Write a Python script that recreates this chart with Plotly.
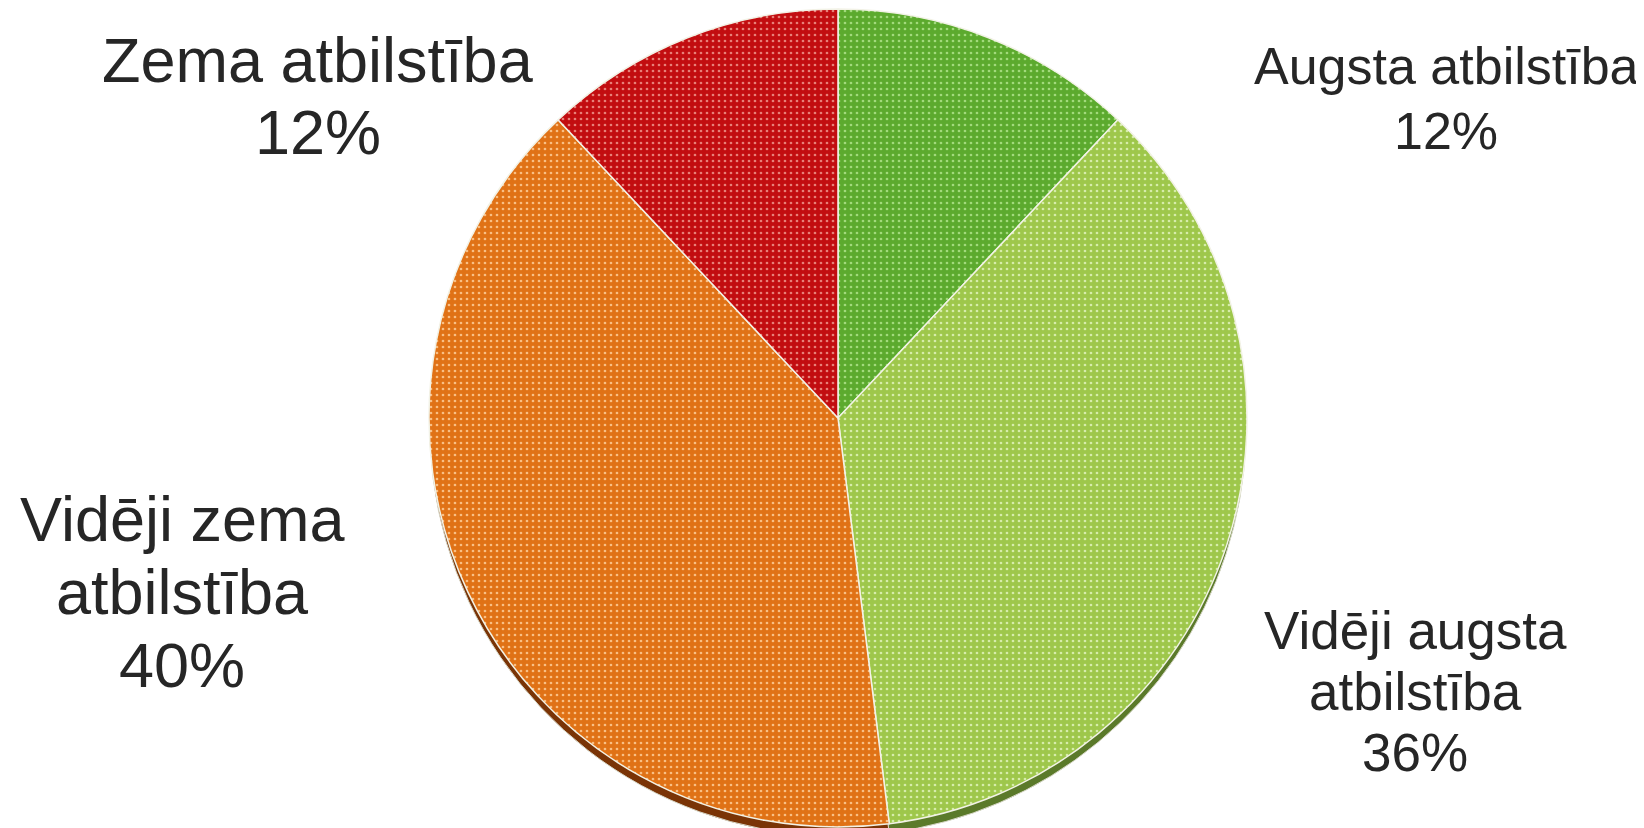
import plotly.graph_objects as go

W, H = 1644, 828

labels = ["Augsta atbilstība", "Vidēji augsta atbilstība", "Vidēji zema atbilstība", "Zema atbilstība"]
values = [12, 36, 40, 12]
colors = ["#5caa2e", "#9ec74b", "#e07216", "#c20d10"]
dot_colors = ["#a2da7c", "#d6ecaa", "#f9bf84", "#e88078"]
rim_colors = ["#3f6d1e", "#5b7a2a", "#7a3406", "#6e0808"]

# label line breaks as in the reference
label_lines = [
    ["Augsta atbilstība"],
    ["Vidēji augsta", "atbilstība"],
    ["Vidēji zema", "atbilstība"],
    ["Zema atbilstība"],
]
# label placement (pixel centre x, first line centre y, font size, line step)
label_pos = [
    (1438, 58, 52, 65),
    (1407, 622, 53, 61),
    (174, 511, 63, 73),
    (310, 52, 63, 72),
]

cx, cy, r = 830, 410, 409

fig = go.Figure()

# 3D rim (same data, darker, shifted down)
fig.add_trace(go.Pie(
    values=values, labels=labels, sort=False, direction="clockwise", rotation=0,
    marker=dict(colors=rim_colors, line=dict(color="#d8d8c8", width=1)),
    textinfo="none", hoverinfo="skip", showlegend=False,
    domain=dict(x=[(cx - r) / W, (cx + r) / W], y=[0, 1 - (cy + 11 - r) / H]),
))

fig.add_trace(go.Pie(
    values=values, labels=labels, sort=False, direction="clockwise", rotation=0,
    marker=dict(colors=colors, line=dict(color="#f2f2e6", width=1.5),
                pattern=dict(shape=".", fgcolor=dot_colors, bgcolor=colors,
                             size=6, solidity=0.16)),
    textinfo="none", showlegend=False,
    domain=dict(x=[(cx - r) / W, (cx + r) / W], y=[1 - (cy + r) / H, 1 - (cy - r) / H]),
))

annotations = []
for lines, val, (x, y0, fs, step) in zip(label_lines, values, label_pos):
    all_lines = lines + [f"{val}%"]
    for i, t in enumerate(all_lines):
        annotations.append(dict(
            x=x / W, y=1 - (y0 + i * step) / H, xref="paper", yref="paper",
            text=t, showarrow=False, xanchor="center", yanchor="middle",
            font=dict(family="Liberation Sans, Arial, sans-serif", size=fs, color="#262626"),
        ))

fig.update_layout(
    width=W, height=H, margin=dict(l=0, r=0, t=0, b=0),
    paper_bgcolor="white", plot_bgcolor="white",
    annotations=annotations,
)

fig.write_html("out.html")
